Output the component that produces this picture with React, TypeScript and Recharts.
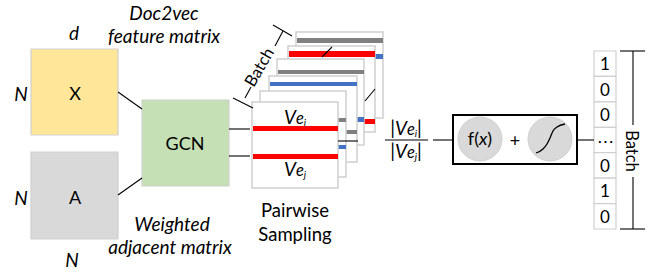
import React from "react";
import {
  ComposedChart, XAxis, YAxis, Scatter,
  ReferenceArea, ReferenceLine, ReferenceDot,
} from "recharts";

// diagram canvas is the data space: x 0..656, y 0..274 (y grows downward)
const W = 656;
const H = 274;
const FONT = "Lato, 'Open Sans', sans-serif";

// matrices and blocks [x1, x2, y1, y2, kind]
const blocks: [number, number, number, number, string][] = [
  [31, 118, 49, 135, "yellow"],
  [31, 118, 152, 239, "gray"],
  [142, 229, 100, 186, "green"],
];

// sampled pair cards, back to front [left, top, right, bottom]
const cards: [number, number, number, number][] = [
  [296, 32, 383, 118],
  [288, 46, 375, 132],
  [277, 59, 364, 145],
  [269, 76, 357, 162],
  [260, 91, 346, 177],
  [252, 102, 338, 188],
];
// two embedding stripes per card [y1, y2, colour]
const cardBars: [number, number, string][][] = [
  [[38, 43, "gray"], [54, 59, "blue"]],
  [[51, 57, "red"], [119, 124, "red"]],
  [[70, 74, "gray"], [117, 122, "blue"]],
  [[82, 86, "blue"], [130, 134, "gray"]],
  [[118, 122, "gray"], [145, 149, "blue"]],
  [[126, 131, "red"], [154, 159, "red"]],
];

// connector strokes [x1, y1, x2, y2]
const links: [number, number, number, number][] = [
  [118, 92, 142, 109],
  [118, 195, 142, 178],
  [229, 129, 250, 129],
  [229, 156, 250, 156],
  [322, 57, 332, 47],
  [365, 101, 375, 89],
  [338, 141, 358, 141],
  [385, 140, 428, 140],
  [433, 140, 453, 140],
  [577, 140, 594, 140],
  // batch bracket, stack
  [273, 25, 292, 36],
  [283, 31, 275, 46],
  [251, 87, 245, 98],
  [233, 98, 253, 108],
  // batch bracket, output
  [633, 51, 633, 125],
  [633, 177, 633, 229],
  [620, 51, 645, 51],
  [620, 229, 645, 229],
];

// output labels column
const outLabels = ["1", "0", "0", "⋯", "0", "1", "0"];
const outTop = 51;
const outBottom = 229;

// sigmoid glyph, points
const sigmoid = [
  { x: 536, y: 153 }, { x: 543, y: 149 }, { x: 547, y: 144 }, { x: 550, y: 138 },
  { x: 553, y: 131 }, { x: 557, y: 127 }, { x: 565, y: 124 },
];

// text labels
const labels = [
  { x: 74, y: 32, text: "d", kind: "it" },
  { x: 164, y: 12, text: "Doc2vec", kind: "it" },
  { x: 164, y: 35, text: "feature matrix", kind: "it" },
  { x: 21, y: 93, text: "N", kind: "it" },
  { x: 21, y: 197, text: "N", kind: "it" },
  { x: 72, y: 259, text: "N", kind: "it" },
  { x: 172, y: 223, text: "Weighted", kind: "it" },
  { x: 170, y: 246, text: "adjacent matrix", kind: "it" },
  { x: 75, y: 93, text: "X", kind: "up" },
  { x: 75, y: 197, text: "A", kind: "up" },
  { x: 185, y: 143, text: "GCN", kind: "up" },
  { x: 295, y: 210, text: "Pairwise", kind: "big" },
  { x: 295, y: 234, text: "Sampling", kind: "big" },
  { x: 515, y: 140, text: "+", kind: "up" },
  { x: 259, y: 67, text: "Batch", kind: "rotL" },
  { x: 632, y: 151, text: "Batch", kind: "rotR" },
];
const veLabels = [
  { x: 295, y: 118, sub: "i", bars: false },
  { x: 295, y: 170, sub: "j", bars: false },
  { x: 406, y: 129, sub: "i", bars: true },
  { x: 406, y: 152, sub: "j", bars: true },
];
const fxLabel = [{ x: 480, y: 139 }];

const colors: Record<string, string> = {
  yellow: "#FFE699",
  gray: "#D9D9D9",
  green: "#C5E0B4",
  red: "#FF0000",
  blue: "#4472C4",
  stripeGray: "#808080",
};
const textStyles: Record<string, { size: number; italic?: boolean; rot?: number }> = {
  it: { size: 19, italic: true },
  up: { size: 18 },
  big: { size: 18.5 },
  digit: { size: 17 },
  rotL: { size: 16.5, rot: -60 },
  rotR: { size: 16.5, rot: 90 },
};

const cellH = (outBottom - outTop) / outLabels.length;
const outCells = outLabels.map((t, i) => ({
  x: 605,
  y: outTop + cellH * (i + 0.5),
  text: t,
  kind: "digit",
}));

function TextShape(p: any) {
  const d = p.payload;
  const st = textStyles[d.kind];
  return (
    <text
      x={p.cx}
      y={p.cy}
      textAnchor="middle"
      dominantBaseline="central"
      fontFamily={FONT}
      fontSize={st.size}
      fontStyle={st.italic ? "italic" : "normal"}
      fill="#000"
      transform={st.rot ? `rotate(${st.rot} ${p.cx} ${p.cy})` : undefined}
    >
      {d.text}
    </text>
  );
}

function VeShape(p: any) {
  const d = p.payload;
  return (
    <text x={p.cx} y={p.cy + 6} textAnchor="middle" fontFamily={FONT} fill="#000">
      {d.bars && <tspan fontSize={19}>|</tspan>}
      <tspan fontStyle="italic" fontSize={19}>V</tspan>
      <tspan fontStyle="italic" fontSize={16.5}>e</tspan>
      <tspan fontStyle="italic" fontSize={10} dy={2}>{d.sub}</tspan>
      {d.bars && <tspan fontSize={19} dy={-2}>|</tspan>}
    </text>
  );
}

function FxShape(p: any) {
  return (
    <text x={p.cx} y={p.cy + 6} textAnchor="middle" fontFamily={FONT} fontSize={18} fill="#000">
      f(<tspan fontStyle="italic">x</tspan>)
    </text>
  );
}

const stripeColor = (c: string) => (c === "gray" ? colors.stripeGray : colors[c]);

export default function App() {
  return (
    <div style={{ position: "fixed", left: 0, top: 0, width: W, height: H, background: "#fff" }}>
      <ComposedChart width={W} height={H} margin={{ top: 0, right: 0, bottom: 0, left: 0 }}>
        <XAxis type="number" dataKey="x" domain={[0, W]} hide allowDataOverflow />
        <YAxis type="number" dataKey="y" domain={[0, H]} reversed hide allowDataOverflow />

        {blocks.map(([x1, x2, y1, y2, k], i) => (
          <ReferenceArea key={`b${i}`} x1={x1} x2={x2} y1={y1} y2={y2}
            fill={colors[k]} fillOpacity={1} stroke="#d0d0d0" strokeWidth={1.2} />
        ))}

        {cards.map(([l, t, r, b], i) => [
          <ReferenceArea key={`c${i}`} x1={l} x2={r} y1={t} y2={b}
            fill="#fff" fillOpacity={1} stroke="#cfcfcf" strokeWidth={1.5} />,
          ...cardBars[i].map(([y1, y2, c], j) => (
            <ReferenceArea key={`c${i}s${j}`} x1={l + 1} x2={r} y1={y1} y2={y2}
              fill={stripeColor(c)} fillOpacity={1} stroke="none" />
          )),
        ])}

        {outLabels.map((_, i) => (
          <ReferenceArea key={`o${i}`} x1={594} x2={616}
            y1={outTop + cellH * i} y2={outTop + cellH * (i + 1)}
            fill="#fff" fillOpacity={1} stroke="#d0d0d0" strokeWidth={1.2} />
        ))}

        <ReferenceArea x1={453} x2={577} y1={115} y2={164}
          fill="none" stroke="#000" strokeWidth={2} />

        {links.map(([x1, y1, x2, y2], i) => (
          <ReferenceLine key={`l${i}`} segment={[{ x: x1, y: y1 }, { x: x2, y: y2 }]}
            stroke="#000" strokeWidth={1.1} />
        ))}

        <ReferenceDot x={480} y={139} r={22} fill={colors.gray} stroke="#cfcfcf" strokeWidth={1} />
        <ReferenceDot x={550} y={139} r={22} fill={colors.gray} stroke="#cfcfcf" strokeWidth={1} />

        <Scatter data={sigmoid} line={{ stroke: "#000", strokeWidth: 1.3 }} lineJointType="monotoneX"
          shape={() => <g />} isAnimationActive={false} />
        <Scatter data={labels} shape={TextShape} isAnimationActive={false} />
        <Scatter data={outCells} shape={TextShape} isAnimationActive={false} />
        <Scatter data={veLabels} shape={VeShape} isAnimationActive={false} />
        <Scatter data={fxLabel} shape={FxShape} isAnimationActive={false} />
      </ComposedChart>
    </div>
  );
}
